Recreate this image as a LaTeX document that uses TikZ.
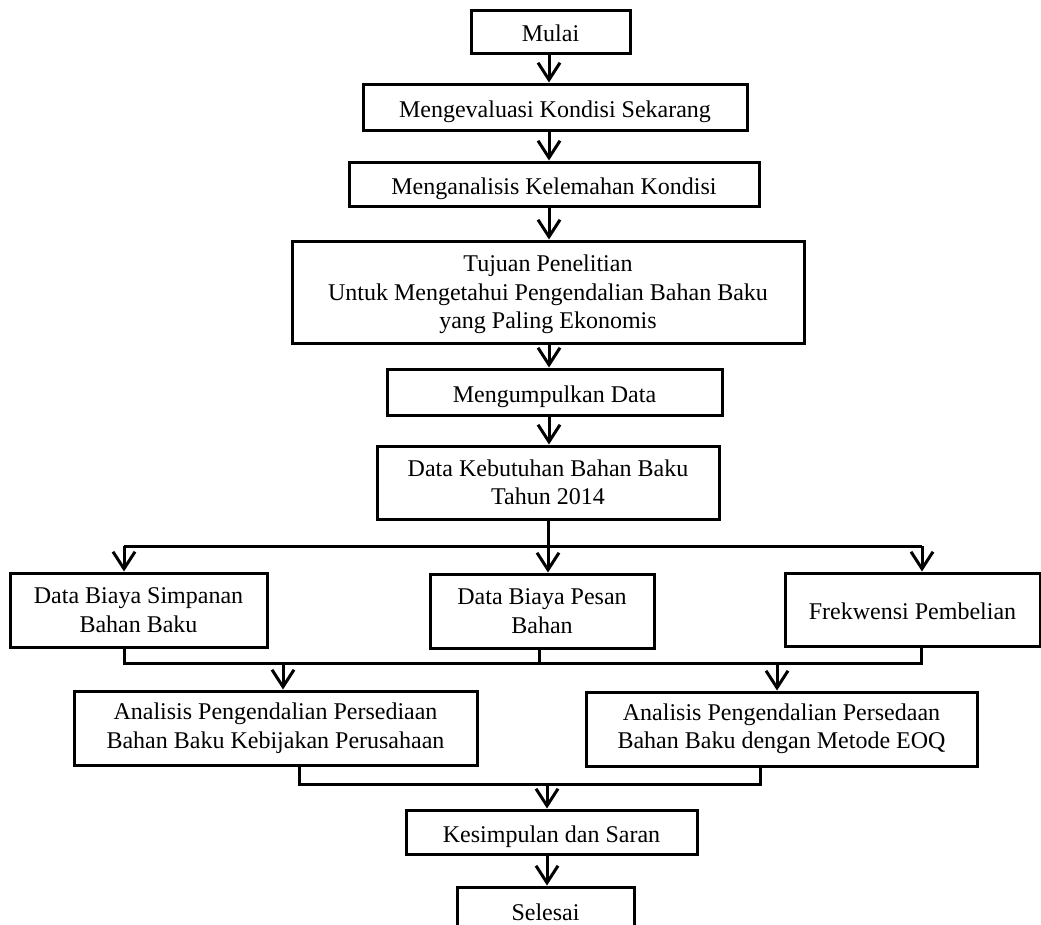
\documentclass[tikz,border=0pt]{standalone}
\usepackage{fontspec}
\setmainfont{Liberation Serif}
\usetikzlibrary{arrows.meta}

\begin{document}
\begin{tikzpicture}[x=1pt,y=-1pt]
\tikzstyle{kotak}=[draw,line width=3pt,rectangle,inner sep=0pt,font=\fontsize{24}{28.5}\selectfont,align=center]
\tikzstyle{satu}=[kotak,text height=20pt,text depth=0pt]
\tikzstyle{garis}=[line width=3pt]
\tikzstyle{panah}=[garis,-{Straight Barb[length=17pt,width=22pt]}]
\useasboundingbox (0,0) rectangle (1041,924);
% kolom tengah
\node [satu,minimum width=159pt,minimum height=43pt] (mulai) at (550.5,31.5) {Mulai};
\node [satu,minimum width=384pt,minimum height=46pt] (evaluasi) at (555,107) {Mengevaluasi Kondisi Sekarang};
\node [satu,minimum width=410pt,minimum height=44pt] (analisis) at (554,184) {Menganalisis Kelemahan Kondisi};
\node [kotak,text depth=0pt,minimum width=512pt,minimum height=102pt] (tujuan) at (548,292) {Tujuan Penelitian\\Untuk Mengetahui Pengendalian Bahan Baku\\yang Paling Ekonomis};
\node [satu,minimum width=335pt,minimum height=46pt] (kumpul) at (554.5,392) {Mengumpulkan Data};
\node [kotak,minimum width=342pt,minimum height=73pt] (kebutuhan) at (548,482.5) {Data Kebutuhan Bahan Baku\\Tahun 2014};
% tiga data
\node [kotak,minimum width=257pt,minimum height=74pt] (simpan) at (138.5,610) {Data Biaya Simpanan\\Bahan Baku};
\node [kotak,minimum width=224pt,minimum height=74pt] (pesan) at (542,611) {Data Biaya Pesan\\Bahan};
\node [satu,minimum width=255pt,minimum height=73pt] (frek) at (912.5,609.5) {Frekwensi Pembelian};
% dua analisis
\node [kotak,minimum width=403pt,minimum height=74pt] (kiri) at (275.5,728) {Analisis Pengendalian Persediaan\\Bahan Baku Kebijakan Perusahaan};
\node [kotak,minimum width=391pt,minimum height=74pt] (kanan) at (781.5,729) {Analisis Pengendalian Persedaan\\Bahan Baku dengan Metode EOQ};
\node [satu,minimum width=291pt,minimum height=44pt] (simpul) at (551.5,832) {Kesimpulan dan Saran};
\node [satu,minimum width=177pt,minimum height=46pt] (selesai) at (545.5,910) {Selesai};

\coordinate (sumbu) at (549,0);
\coordinate (c1) at (124,546);
\coordinate (c2) at (548,546);
\coordinate (c3) at (922,546);
\coordinate (m1) at (124,663);
\coordinate (m2) at (539,663);
\coordinate (m3) at (921,663);
\coordinate (a1) at (283,663);
\coordinate (a2) at (777,663);
\coordinate (n1) at (299,784);
\coordinate (n2) at (760,784);
\coordinate (n3) at (547,784);

\draw [panah] (sumbu |- mulai.south) -- (sumbu |- evaluasi.north);
\draw [panah] (sumbu |- evaluasi.south) -- (sumbu |- analisis.north);
\draw [panah] (sumbu |- analisis.south) -- (sumbu |- tujuan.north);
\draw [panah] (sumbu |- tujuan.south) -- (sumbu |- kumpul.north);
\draw [panah] (sumbu |- kumpul.south) -- (sumbu |- kebutuhan.north);

\draw [garis] (c2 |- kebutuhan.south) -- (c2)
(c1) -- (c3);
\draw [panah] (c1) -- (c1 |- simpan.north);
\draw [panah] (c2) -- (c2 |- pesan.north);
\draw [panah] (c3) -- (c3 |- frek.north);

\draw [garis] (m1 |- simpan.south) -- (m1) -- (m3) -- (m3 |- frek.south)
(m2 |- pesan.south) -- (m2);
\draw [panah] (a1) -- (a1 |- kiri.north);
\draw [panah] (a2) -- (a2 |- kanan.north);

\draw [garis] (n1 |- kiri.south) -- (n1) -- (n2) -- (n2 |- kanan.south);
\draw [panah] (n3) -- (n3 |- simpul.north);
\draw [panah] (n3 |- simpul.south) -- (n3 |- selesai.north);
\end{tikzpicture}
\end{document}
